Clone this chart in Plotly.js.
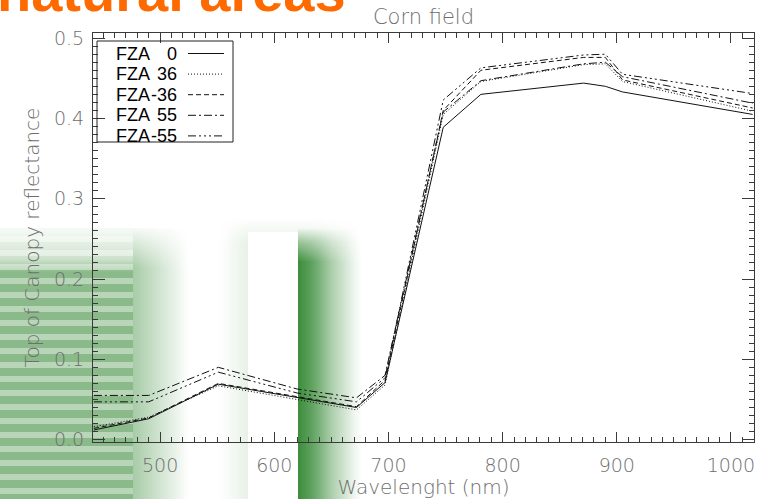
<!DOCTYPE html>
<html>
<head>
<meta charset="utf-8">
<script src="https://cdn.plot.ly/plotly-3.0.1.min.js"></script>
<style>
  html, body { margin:0; padding:0; background:#ffffff; }
  #stage { position:relative; width:765px; height:499px; overflow:hidden; background:#ffffff; }
  .deco { position:absolute; }
  #plot { position:absolute; left:0; top:0; width:765px; height:499px; z-index:5; }
  #slideTitle { position:absolute; left:-3px; top:-36px; z-index:6; font-family:"Liberation Sans", Arial, sans-serif;
    font-size:56px; line-height:56px; font-weight:bold; color:#ff6a00; white-space:nowrap; }
</style>
</head>
<body>
<div id="stage">
  <!-- slide background decorations -->
  <div class="deco" style="left:0;top:228px;width:133px;height:271px;
     background:repeating-linear-gradient(180deg, rgba(60,140,60,0.60) 0px, rgba(60,140,60,0.60) 8px, rgba(60,140,60,0.36) 8px, rgba(60,140,60,0.36) 14px);
     -webkit-mask-image:linear-gradient(to bottom, rgba(0,0,0,0.08) 0px, rgba(0,0,0,0.3) 22px, rgba(0,0,0,0.45) 32px, rgba(0,0,0,1) 44px);
     mask-image:linear-gradient(to bottom, rgba(0,0,0,0.08) 0px, rgba(0,0,0,0.3) 22px, rgba(0,0,0,0.45) 32px, rgba(0,0,0,1) 44px);"></div>
  <div class="deco" style="left:133px;top:228px;width:56px;height:271px;
     background:linear-gradient(to right, rgba(60,140,60,0.45), rgba(60,140,60,0.0));
     -webkit-mask-image:linear-gradient(to bottom, rgba(0,0,0,0.1) 0px, rgba(0,0,0,1) 40px);
     mask-image:linear-gradient(to bottom, rgba(0,0,0,0.1) 0px, rgba(0,0,0,1) 40px);"></div>
  <div class="deco" style="left:220px;top:218px;width:140px;height:281px;
     background:linear-gradient(to right, rgba(60,140,60,0), rgba(60,140,60,0.12) 28px, rgba(60,140,60,0.12) 95px, rgba(60,140,60,0));
     -webkit-mask-image:linear-gradient(to bottom, rgba(0,0,0,0) 0px, rgba(0,0,0,1) 25px);
     mask-image:linear-gradient(to bottom, rgba(0,0,0,0) 0px, rgba(0,0,0,1) 25px);"></div>
  <div class="deco" style="left:248px;top:232px;width:50px;height:267px;background:#ffffff;"></div>
  <div class="deco" style="left:298px;top:228px;width:66px;height:271px;
     background:linear-gradient(to right, rgba(50,135,50,0.95) 0px, rgba(50,135,50,0.75) 14px, rgba(50,135,50,0.35) 34px, rgba(50,135,50,0.08) 55px, rgba(50,135,50,0) 64px);
     -webkit-mask-image:linear-gradient(to bottom, rgba(0,0,0,0) 0px, rgba(0,0,0,0.45) 14px, rgba(0,0,0,1) 34px);
     mask-image:linear-gradient(to bottom, rgba(0,0,0,0) 0px, rgba(0,0,0,0.45) 14px, rgba(0,0,0,1) 34px);"></div>
  <div id="slideTitle">natural areas</div>
  <div id="plot"></div>
</div>
<script>
// ---- data ----
const wavelength = [442, 490, 551, 620, 672, 697, 748, 781, 871, 890, 905, 1019];
const fza0     = [0.012, 0.026, 0.069, 0.052, 0.040, 0.071, 0.389, 0.430, 0.444, 0.440, 0.433, 0.405];
const fza36    = [0.016, 0.028, 0.067, 0.050, 0.037, 0.068, 0.405, 0.446, 0.467, 0.468, 0.446, 0.409];
const fzaM36   = [0.014, 0.027, 0.070, 0.053, 0.041, 0.074, 0.410, 0.460, 0.476, 0.476, 0.448, 0.413];
const fza55    = [0.055, 0.055, 0.090, 0.063, 0.052, 0.080, 0.408, 0.447, 0.468, 0.470, 0.452, 0.419];
const fzaM55   = [0.047, 0.047, 0.084, 0.058, 0.047, 0.077, 0.423, 0.463, 0.479, 0.480, 0.455, 0.431];
const angleLabels = ['0', '36', '-36', '55', '-55'];
const xTickValues = [500, 600, 700, 800, 900, 1000];
const yTickValues = [0.0, 0.1, 0.2, 0.3, 0.4, 0.5];

const seriesValues = [fza0, fza36, fzaM36, fza55, fzaM55];
const dashes = ['solid', '1px,2px', '5px,3px', '8px,3px,2px,3px', '8px,3px,2px,3px,2px,3px,2px,3px'];
const lineColor = '#111111';

const traces = seriesValues.map((vals, i) => ({
  type: 'scatter', mode: 'lines', x: wavelength, y: vals,
  name: 'FZA ' + angleLabels[i],
  line: { color: lineColor, width: 1, dash: dashes[i] },
  showlegend: false, hoverinfo: 'skip'
}));

// plot area in pixels (for the hand-drawn legend box)
const W = 765, H = 499, L = 93, R = 11, T = 33, B = 57;
const pw = W - L - R, ph = H - T - B;
const px = x => (x - L) / pw;
const py = y => (H - B - y) / ph;

const shapes = [{
  type: 'rect', xref: 'paper', yref: 'paper',
  x0: px(97), x1: px(233), y0: py(142), y1: py(41),
  line: { color: '#222', width: 1 }, fillcolor: 'rgba(255,255,255,0)'
}];
const annotations = [];
const legFont = { family: 'Liberation Sans, Arial, sans-serif', size: 18, color: '#000' };
angleLabels.forEach((a, i) => {
  const yy = 53.5 + i * 20.6;
  annotations.push({ xref: 'paper', yref: 'paper', x: px(114), y: py(yy), xanchor: 'left', yanchor: 'middle',
    text: 'FZA', showarrow: false, font: legFont });
  annotations.push({ xref: 'paper', yref: 'paper', x: px(179), y: py(yy), xanchor: 'right', yanchor: 'middle',
    text: a, showarrow: false, font: legFont });
  shapes.push({ type: 'line', xref: 'paper', yref: 'paper', x0: px(188), x1: px(224), y0: py(yy), y1: py(yy),
    line: { color: lineColor, width: 1, dash: dashes[i] } });
});

const tickFont = { family: 'DejaVu Sans, sans-serif', size: 19, color: '#6e6e6e', weight: 200 };
const titleFont = { family: 'DejaVu Sans, sans-serif', size: 20, color: '#6e6e6e', weight: 200 };
const axisCol = '#3a3a3a';

const layout = {
  width: W, height: H,
  margin: { l: L, r: R, t: T, b: B, pad: 0 },
  paper_bgcolor: 'rgba(0,0,0,0)', plot_bgcolor: 'rgba(0,0,0,0)',
  showlegend: false,
  title: { text: 'Corn field', xref: 'paper', x: 0.5, xanchor: 'center', yref: 'container', y: 1 - 17 / H, yanchor: 'middle',
    font: { family: 'DejaVu Sans, sans-serif', size: 21, color: '#6e6e6e', weight: 200 } },
  xaxis: {
    range: [441.2, 1020.2], tickmode: 'array', tickvals: xTickValues, ticktext: xTickValues.map(String),
    ticks: 'inside', ticklen: 10, tickwidth: 1, tickcolor: axisCol,
    showline: true, linecolor: axisCol, linewidth: 1, mirror: 'allticks',
    showgrid: false, zeroline: false, tickfont: tickFont, ticklabelstandoff: 6,
    minor: { dtick: 10, tick0: 0, ticks: 'inside', ticklen: 5, tickwidth: 1, tickcolor: axisCol, showgrid: false },
    title: { text: 'Wavelenght (nm)', standoff: 6, font: titleFont },
    automargin: false
  },
  yaxis: {
    range: [-0.003, 0.5064], tickmode: 'array', tickvals: yTickValues, ticktext: yTickValues.map(v => v.toFixed(1)),
    ticks: 'inside', ticklen: 12, tickwidth: 1, tickcolor: axisCol,
    showline: true, linecolor: axisCol, linewidth: 1, mirror: 'allticks',
    showgrid: false, zeroline: false, tickfont: tickFont, ticklabelstandoff: 4,
    minor: { dtick: 0.01, tick0: 0, ticks: 'inside', ticklen: 5, tickwidth: 1, tickcolor: axisCol, showgrid: false },
    title: { text: 'Top of Canopy reflectance', standoff: 8, font: titleFont },
    automargin: false
  },
  shapes: shapes,
  annotations: annotations
};

Plotly.newPlot('plot', traces, layout, { staticPlot: true, displayModeBar: false });
</script>
</body>
</html>
